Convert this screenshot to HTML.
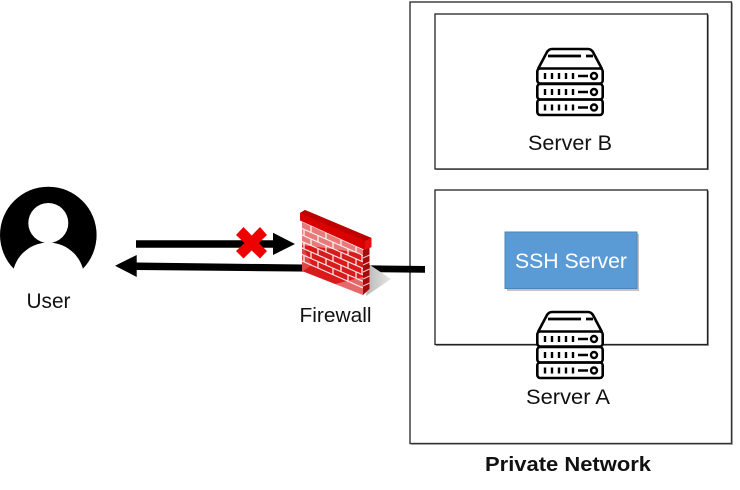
<!DOCTYPE html>
<html>
<head>
<meta charset="utf-8">
<style>
html,body{margin:0;padding:0;background:#fff;}
svg{display:block;filter:blur(0.35px);}
text{font-family:"Liberation Sans",sans-serif;fill:#111;}
</style>
</head>
<body>
<svg width="740" height="490" viewBox="0 0 740 490" xmlns="http://www.w3.org/2000/svg">
<defs>
<g id="srv" fill="none" stroke="#000">
  <path d="M2 21 L11 4 Q13 1 16 1 L52 1 Q55 1 57 4 L66 21" stroke-width="2.600"/>
  <rect x="1.300" y="20.500" width="65.400" height="15" rx="3" stroke-width="2.600"/>
  <rect x="1.300" y="36" width="65.400" height="15.500" rx="3" stroke-width="2.600"/>
  <rect x="1.300" y="51.500" width="65.400" height="15.500" rx="3" stroke-width="2.600"/>
  <path d="M12 8H45M50 8H57" stroke-width="2.800"/>
  <g stroke-width="2.400">
    <path d="M9 25v6M16 25v6M23 25v6M30 25v6M37 25v6M42 28h10"/>
    <path d="M9 41v6M16 41v6M23 41v6M30 41v6M37 41v6M42 44h10"/>
    <path d="M9 56.500v6M16 56.500v6M23 56.500v6M30 56.500v6M37 56.500v6M42 59.500h10"/>
    <circle cx="58" cy="28" r="3" stroke-width="2.400"/>
    <circle cx="58" cy="44" r="3" stroke-width="2.400"/>
    <circle cx="58" cy="59.500" r="3" stroke-width="2.400"/>
  </g>
</g>
<linearGradient id="shd" x1="0" y1="0" x2="1" y2="0">
  <stop offset="0" stop-color="#b8b8b8"/><stop offset="1" stop-color="#e6e6e6"/>
</linearGradient>
</defs>

<!-- Private network container -->
<rect x="411" y="3" width="322" height="442" fill="#bbb"/>
<rect x="410" y="2" width="321.500" height="441.500" fill="#fff" stroke="#333" stroke-width="1.400"/>

<!-- Server B box -->
<rect x="436" y="15" width="273" height="155" fill="#999"/>
<rect x="435" y="14" width="272.500" height="155" fill="#fff" stroke="#222" stroke-width="1.300"/>
<!-- Server A box -->
<rect x="436" y="191" width="273" height="155" fill="#999"/>
<rect x="435" y="190" width="272.500" height="154.500" fill="#fff" stroke="#222" stroke-width="1.300"/>

<use href="#srv" x="536" y="48"/>
<text x="570" y="150" text-anchor="middle" font-size="21" textLength="84" lengthAdjust="spacingAndGlyphs">Server B</text>

<!-- SSH server -->
<rect x="507" y="234" width="132" height="57" fill="#aaa" opacity=".7"/>
<rect x="505" y="232" width="132" height="56.500" fill="#5b9bd5" stroke="#4b85b8" stroke-width="1"/>
<text x="571" y="268" text-anchor="middle" font-size="21" textLength="112" lengthAdjust="spacingAndGlyphs" style="fill:#fff">SSH Server</text>

<!-- Server A icon -->
<path d="M538 331 L547 315 Q549 312 552 312 L588 312 Q591 312 593 315 L602 331 L603 378 L537 378 Z" fill="#fff"/>
<use href="#srv" x="536" y="311"/>
<text x="568" y="404" text-anchor="middle" font-size="21" textLength="84" lengthAdjust="spacingAndGlyphs">Server A</text>

<text x="568" y="471" text-anchor="middle" font-size="20.500" font-weight="bold" textLength="166" lengthAdjust="spacingAndGlyphs">Private Network</text>

<!-- User -->
<circle cx="48.300" cy="235" r="48.300" fill="#000"/>
<circle cx="48.300" cy="278.500" r="36" fill="#fff"/>
<circle cx="48.300" cy="223" r="20" fill="#fff"/>
<rect x="0" y="284" width="100" height="6" fill="#fff"/>
<text x="48.500" y="308" text-anchor="middle" font-size="21" textLength="44" lengthAdjust="spacingAndGlyphs">User</text>

<!-- Arrows -->
<path d="M136 240.300H273V232.700L295 244L273 255V247.700H136Z" fill="#000"/>
<path d="M115 265.700L136.700 255V262.500L425 266V272.700L136.700 270V277Z" fill="#000"/>

<!-- Red X -->
<path d="M236 235 L243.500 227 L251.700 235.500 L260 227 L267 235 L258.700 243 L267 251 L260 258.500 L251.700 250.500 L243.500 258.500 L236 251 L244.500 243 Z" fill="#ee0000"/>

<!-- Firewall shadow -->
<path d="M370 265 L391 279 L366 296 Z" fill="url(#shd)"/>

<!-- Firewall -->
<g>
  <path d="M302 222 L363 250 L363 295 L302 271 Z" fill="#d81a1a"/>
  <path d="M363 250 L369.500 247 L369.500 289 L363 295 Z" fill="#a50a0a"/>
  <g transform="matrix(1,0.44,0,1,302,222)" stroke="#f8e4e4" stroke-width="1.300" fill="none">
    <path d="M0 6.500H61M0 13H61M0 19.500H61M0 26H61M0 32.500H61M0 39H61" />
    <path d="M9 0v6.500M24 0v6.500M39 0v6.500M54 0v6.500"/>
    <path d="M2 6.500v6.500M16 6.500v6.500M31 6.500v6.500M46 6.500v6.500M60 6.500v6.500"/>
    <path d="M9 13v6.500M24 13v6.500M39 13v6.500M54 13v6.500"/>
    <path d="M2 19.500v6.500M16 19.500v6.500M31 19.500v6.500M46 19.500v6.500M60 19.500v6.500"/>
    <path d="M9 26v6.500M24 26v6.500M39 26v6.500M54 26v6.500"/>
    <path d="M2 32.500v6.500M16 32.500v6.500M31 32.500v6.500M46 32.500v6.500"/>
  </g>
  <path d="M302 222 L363 250 L363 254 L340 250 L302 245 Z" fill="#fff" opacity=".42"/>
  <path d="M335 284 L363 277 V295 Z" fill="#fff" opacity=".35"/>
  <path d="M302 245 L312 265 L303 271 L302 271 Z" fill="#fff" opacity=".2"/>
  <path d="M363 258L369.500 255M363 265L369.500 262M363 272L369.500 269M363 279L369.500 276M363 286L369.500 283" stroke="#e8c8c8" stroke-width="1"/>
  <path d="M300 213 L305 210 L371.500 238 L371.500 247 L365 250 L300 220.500 Z" fill="#d80000"/>
  <path d="M300 213 L305 210 L371.500 238 L365 241 Z" fill="#bd0000"/>
  <path d="M365 241 L371.500 238 L371.500 247 L365 250 Z" fill="#e41010"/>
</g>
<text x="335.500" y="322" text-anchor="middle" font-size="20.500" textLength="72" lengthAdjust="spacingAndGlyphs">Firewall</text>
</svg>
</body>
</html>
